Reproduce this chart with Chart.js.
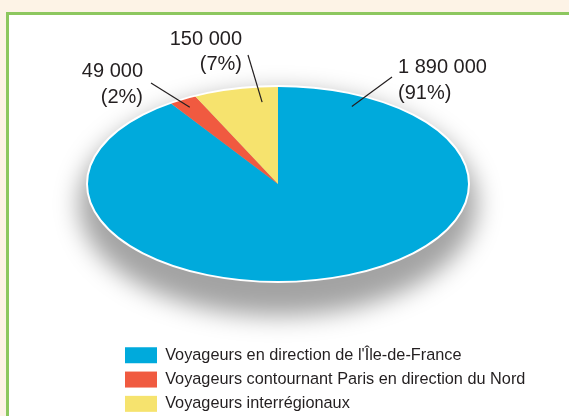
<!DOCTYPE html>
<html>
<head>
<meta charset="utf-8">
<script src="https://cdn.jsdelivr.net/npm/chart.js@4.4.1/dist/chart.umd.min.js"></script>
<style>
    html, body { margin: 0; padding: 0; }
    body { width: 569px; height: 416px; overflow: hidden; background: #fdf3e6; position: relative; }
    #frame { position: absolute; left: 6px; top: 12px; width: 600px; height: 450px; background: #fff; border-left: 3px solid #8dc75f; border-top: 3px solid #8dc75f; }
    #pieChart { position: absolute; left: 0; top: 0; }
</style>
</head>
<body>
<div id="frame"></div>
<canvas id="pieChart" width="569" height="422"></canvas>
<script>
// Data
const categories = [
    "Voyageurs en direction de l'Île-de-France",
    'Voyageurs contournant Paris en direction du Nord',
    'Voyageurs interrégionaux'
];
const voyageurs = [1890000, 49000, 150000];
const percentLabels = ['91%', '2%', '7%'];
const sliceColors = ['#00aadc', '#f05a40', '#f6e36e'];

// Where the squashed pie sits on screen
const pieCenter = { x: 278, y: 184 };
const pieRadii = { x: 191, y: 98 };

// Callouts: point inside slice (t along slice, f of radius), leader end, text anchor
const callouts = [
    { t: 0.08, f: 0.88, end: [392, 77], text: [398, 73], align: 'left' },
    { t: 0.45, f: 0.91, end: [151, 83], text: [143, 77], align: 'right' },
    { t: 0.78, f: 0.84, end: [248, 55], text: [242, 44.5], align: 'right' }
];

const textColor = '#231f20';

function formatNumber(n) {
    return String(n).replace(/\B(?=(\d{3})+(?!\d))/g, ' ');
}

// Squash the pie into an ellipse with a soft shadow underneath
const ellipsePlugin = {
    id: 'ellipsePie',
    beforeDatasetsDraw(chart) {
        const arc = chart.getDatasetMeta(0).data[0];
        const ctx = chart.ctx;

        ctx.save();
        ctx.filter = 'blur(12px)';
        ctx.fillStyle = 'rgba(0, 0, 0, 0.36)';
        ctx.beginPath();
        ctx.ellipse(pieCenter.x, pieCenter.y + 20, pieRadii.x + 8, pieRadii.y + 14, 0, 0, Math.PI * 2);
        ctx.fill();
        ctx.restore();

        ctx.save();
        ctx.translate(pieCenter.x, pieCenter.y);
        ctx.scale(pieRadii.x / arc.outerRadius, pieRadii.y / arc.outerRadius);
        ctx.translate(-arc.x, -arc.y);
    },
    afterDatasetsDraw(chart) {
        const ctx = chart.ctx;
        ctx.restore();

        ctx.save();
        ctx.strokeStyle = '#ffffff';
        ctx.lineWidth = 2;
        ctx.beginPath();
        ctx.ellipse(pieCenter.x, pieCenter.y, pieRadii.x, pieRadii.y, 0, 0, Math.PI * 2);
        ctx.stroke();
        ctx.restore();
    },
    afterDraw(chart) {
        const ctx = chart.ctx;
        const arcs = chart.getDatasetMeta(0).data;

        ctx.save();
        ctx.strokeStyle = textColor;
        ctx.fillStyle = textColor;
        ctx.lineWidth = 1.2;
        ctx.font = '20px "Liberation Sans", Arial, sans-serif';
        ctx.textBaseline = 'alphabetic';

        arcs.forEach((arc, i) => {
            const c = callouts[i];
            const a = arc.startAngle + c.t * (arc.endAngle - arc.startAngle);
            const px = pieCenter.x + pieRadii.x * c.f * Math.cos(a);
            const py = pieCenter.y + pieRadii.y * c.f * Math.sin(a);

            ctx.beginPath();
            ctx.moveTo(px, py);
            ctx.lineTo(c.end[0], c.end[1]);
            ctx.stroke();

            ctx.textAlign = c.align;
            ctx.fillText(formatNumber(voyageurs[i]), c.text[0], c.text[1]);
            ctx.fillText('(' + percentLabels[i] + ')', c.text[0], c.text[1] + 25.5);
        });
        ctx.restore();
    }
};

const ctx = document.getElementById('pieChart').getContext('2d');

new Chart(ctx, {
    type: 'pie',
    data: {
        labels: categories,
        datasets: [{
            data: voyageurs,
            backgroundColor: sliceColors,
            borderWidth: 0,
            clip: false
        }]
    },
    options: {
        responsive: false,
        animation: false,
        events: [],
        layout: {
            padding: { left: 117, right: 0, top: 0, bottom: 0 }
        },
        plugins: {
            legend: {
                position: 'bottom',
                align: 'start',
                labels: {
                    boxWidth: 32,
                    boxHeight: 16,
                    padding: 8,
                    color: textColor,
                    font: { family: '"Liberation Sans", Arial, sans-serif', size: 16.3 }
                }
            },
            tooltip: { enabled: false }
        }
    },
    plugins: [ellipsePlugin]
});
</script>
</body>
</html>
